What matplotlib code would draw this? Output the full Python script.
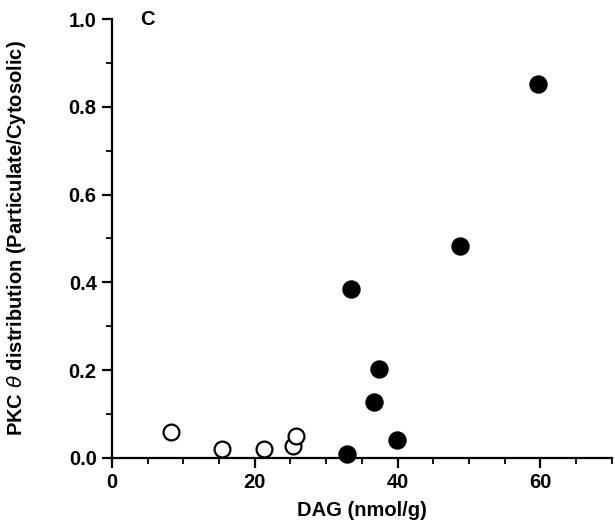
import matplotlib.pyplot as plt
from matplotlib.ticker import MultipleLocator

# open circles (control) and filled circles
open_x = [8.2, 15.4, 21.3, 25.4, 25.8]
open_y = [0.059, 0.020, 0.020, 0.027, 0.050]
filled_x = [32.9, 39.9, 36.7, 37.4, 33.5, 48.7, 59.7]
filled_y = [0.009, 0.041, 0.128, 0.203, 0.385, 0.483, 0.852]

x_ticks = [0, 20, 40, 60]
y_ticks = [0.0, 0.2, 0.4, 0.6, 0.8, 1.0]

plt.rcParams['font.family'] = ['Liberation Sans', 'DejaVu Sans']
plt.rcParams['font.weight'] = 'bold'
plt.rcParams['mathtext.fontset'] = 'custom'
plt.rcParams['mathtext.it'] = 'DejaVu Sans:italic:normal'

fig = plt.figure(figsize=(6.15, 5.3), dpi=100)
ax = fig.add_axes([0.182, 0.136, 0.813, 0.828])

ax.scatter(open_x, open_y, s=130, facecolors='white', edgecolors='black', linewidths=1.6, zorder=3, clip_on=False)
ax.scatter(filled_x, filled_y, s=150, color='black', zorder=3, clip_on=False)

ax.set_xlim(0, 70)
ax.set_ylim(0, 1.0)
ax.set_xticks(x_ticks)
ax.set_yticks(y_ticks)
ax.set_yticklabels(['%.1f' % v for v in y_ticks])
ax.xaxis.set_minor_locator(MultipleLocator(5))
ax.yaxis.set_minor_locator(MultipleLocator(0.1))

for s in ['top', 'right']:
    ax.spines[s].set_visible(False)
for s in ['left', 'bottom']:
    ax.spines[s].set_linewidth(1.6)

ax.tick_params(which='major', direction='out', length=7, width=1.6, labelsize=14.5, pad=4)
ax.tick_params(which='minor', direction='out', length=4, width=1.3)

ax.set_xlabel('DAG (nmol/g)', fontsize=14.5, fontweight='bold', labelpad=6)
ax.set_ylabel(r'PKC $\theta$ distribution (Particulate/Cytosolic)', fontsize=14.5, fontweight='bold', labelpad=29)
ax.text(5, 1.0, 'C', fontsize=14.5, fontweight='bold', va='center', ha='center')

plt.savefig('out.png', dpi=100)
